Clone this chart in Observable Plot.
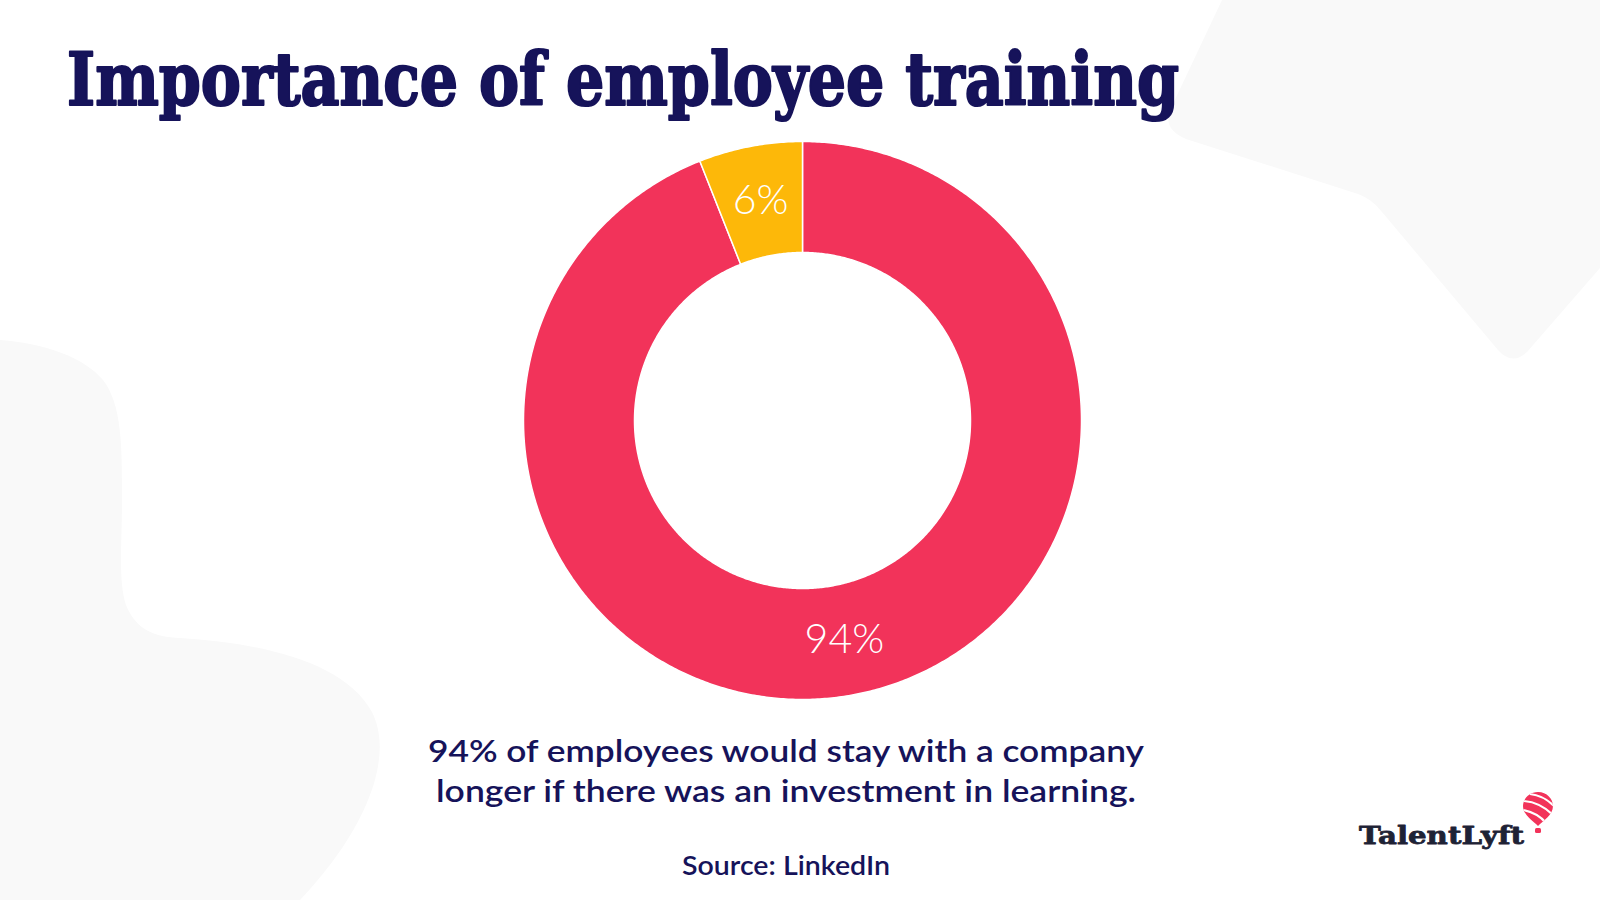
<!DOCTYPE html>
<html>
<head>
<meta charset="utf-8">
<script src="https://cdn.jsdelivr.net/npm/d3@7"></script>
<script src="https://cdn.jsdelivr.net/npm/@observablehq/plot@0.6"></script>
<style>
  html, body { margin: 0; padding: 0; background: #ffffff; }
  #page { position: relative; width: 1600px; height: 900px; overflow: hidden; background: #ffffff; }
  #bg { position: absolute; left: 0; top: 0; }
  #chart { position: absolute; left: 502px; top: 120px; width: 600px; height: 600px; }
</style>
</head>
<body>
<div id="page">
  <svg id="bg" width="1600" height="900" viewBox="0 0 1600 900">
    <!-- decorative background shapes -->
    <path d="M1222,0 L1172,106 Q1160,128 1186,139 L1358,194 Q1372,199 1382,212 L1498,350 Q1512,366 1527,352 L1600,268 L1600,0 Z" fill="#F9F9F9"/>
    <path d="M0,340 C45,343 85,358 103,380 C122,405 122,445 122,500 C122,545 118,580 126,605 C136,630 155,637 180,638 C262,643 345,662 372,712 C396,760 362,835 300,900 L0,900 Z" fill="#F9F9F9"/>
    <!-- title -->
    <text id="title" x="67" y="105" font-family="DejaVu Serif" font-weight="bold" font-size="72" fill="#16135A" stroke="#16135A" stroke-width="2.2" stroke-linejoin="round" textLength="1112" lengthAdjust="spacingAndGlyphs">Importance of employee training</text>
    <!-- caption -->
    <text x="786" y="762" text-anchor="middle" font-family="Lato" font-weight="600" font-size="31" fill="#16135A" textLength="716" lengthAdjust="spacingAndGlyphs">94% of employees would stay with a company</text>
    <text x="786" y="802" text-anchor="middle" font-family="Lato" font-weight="600" font-size="31" fill="#16135A" textLength="700" lengthAdjust="spacingAndGlyphs">longer if there was an investment in learning.</text>
    <text x="786" y="875" text-anchor="middle" font-family="Lato" font-weight="600" font-size="27" fill="#16135A" textLength="208" lengthAdjust="spacingAndGlyphs">Source: LinkedIn</text>
    <!-- logo -->
    <text x="1359" y="844" font-family="DejaVu Serif" font-weight="bold" font-size="25" fill="#1E2235" stroke="#1E2235" stroke-width="0.8" stroke-linejoin="round" textLength="165" lengthAdjust="spacingAndGlyphs">TalentLyft</text>
    <g>
      <clipPath id="balloonClip"><path d="M1538,792 C1547,792 1553,799 1553,806 C1553,815 1543,821 1538,826 C1533,821 1523,815 1523,806 C1523,799 1529,792 1538,792 Z"/></clipPath>
      <path d="M1538,792 C1547,792 1553,799 1553,806 C1553,815 1543,821 1538,826 C1533,821 1523,815 1523,806 C1523,799 1529,792 1538,792 Z" fill="#F2335A"/>
      <g clip-path="url(#balloonClip)" stroke="#ffffff" stroke-width="2.2" fill="none">
        <path d="M1530,794 C1540,795 1548,800 1554,806"/>
        <path d="M1524,801 C1536,802 1546,808 1553,815"/>
        <path d="M1523,810 C1533,812 1541,817 1546,823"/>
      </g>
      <rect x="1535" y="828" width="6" height="5" rx="1.5" fill="#F2335A"/>
    </g>
  </svg>
  <div id="chart"></div>
</div>
<script>
// ---- data ----
const categories = ["Would stay longer", "Would not stay"];
const values = [94, 6];
const labels = ["94%", "6%"];
const colors = ["#F2335A", "#FDB809"];

// ---- build donut geometry from data ----
const data = categories.map((c, i) => ({category: c, value: values[i], label: labels[i]}));
const arcs = d3.pie().sort(null).value(d => d.value)(data);
const R = 1;                 // outer radius (unit)
const r0 = 168 / 279;        // inner radius ratio
const k = 300 / 279;         // half-extent of domain

function ringPoints(a) {
  const n = Math.max(4, Math.ceil((a.endAngle - a.startAngle) / (Math.PI / 360)));
  const pts = [];
  for (let i = 0; i <= n; i++) {
    const t = a.startAngle + (a.endAngle - a.startAngle) * i / n;
    pts.push({category: a.data.category, x: R * Math.sin(t), y: R * Math.cos(t)});
  }
  for (let i = n; i >= 0; i--) {
    const t = a.startAngle + (a.endAngle - a.startAngle) * i / n;
    pts.push({category: a.data.category, x: r0 * Math.sin(t), y: r0 * Math.cos(t)});
  }
  return pts;
}

const labelPts = arcs.map(a => {
  const m = (a.startAngle + a.endAngle) / 2;
  const rm = (R + r0) / 2;
  return {label: a.data.label, x: rm * Math.sin(m), y: rm * Math.cos(m)};
});

const chart = Plot.plot({
  width: 600,
  height: 600,
  margin: 0,
  x: {domain: [-k, k], axis: null},
  y: {domain: [-k, k], axis: null},
  style: {background: "transparent", overflow: "visible"},
  marks: [
    ...arcs.map((a, i) => Plot.line(ringPoints(a), {
      x: "x", y: "y",
      fill: colors[i],
      stroke: "#ffffff",
      strokeWidth: 1.5,
      curve: "linear-closed"
    })),
    Plot.text(labelPts, {
      x: "x", y: "y", text: "label",
      fill: "#ffffff",
      fontSize: 41,
      fontFamily: "Lato",
      fontWeight: 300
    })
  ]
});
document.getElementById("chart").appendChild(chart);
</script>
</body>
</html>
